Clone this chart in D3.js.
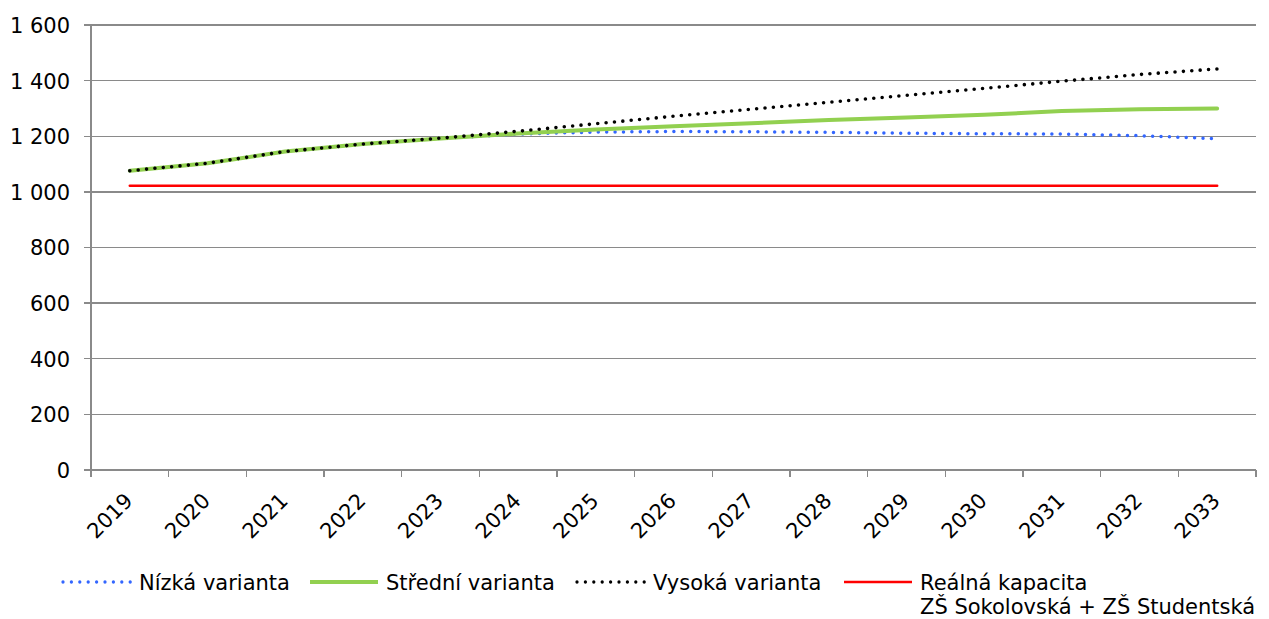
<!DOCTYPE html>
<meta charset="utf-8">
<style>
body{ margin:0; background:#fff; }
text{ font-family:"DejaVu Sans", Verdana, sans-serif; font-size:21px; fill:#000; }
.grid line, .axis line{ stroke:#8a8a8a; stroke-width:1.4px; shape-rendering:crispEdges; }
.series{ fill:none; }
</style>
<body>
<script src="https://cdn.jsdelivr.net/npm/d3@7"></script>
<script>

var years = ['2019','2020','2021','2022','2023','2024','2025','2026','2027','2028','2029','2030','2031','2032','2033'];
var nizka   = [1076,1103,1145,1172,1192,1208,1215,1217,1216,1214,1211,1209,1208,1202,1191];
var stredni = [1076,1103,1145,1172,1192,1210,1224,1236,1247,1258,1267,1277,1291,1297,1300];
var vysoka  = [1076,1103,1145,1172,1193,1218,1245,1272,1297,1322,1347,1372,1398,1422,1442];
var kapacita= [1022,1022,1022,1022,1022,1022,1022,1022,1022,1022,1022,1022,1022,1022,1022];
var yTicks = [0,200,400,600,800,1000,1200,1400,1600];

var series = [
	{name:["Nízká varianta"], values:nizka, color:"#3366ff", width:3.5, dash:"0 8.4"},
	{name:["Střední varianta"], values:stredni, color:"#92d050", width:4, dash:null},
	{name:["Vysoká varianta"], values:vysoka, color:"#000000", width:3.6, dash:"0 8.4"},
	{name:["Reálná kapacita","ZŠ Sokolovská + ZŠ Studentská"], values:kapacita, color:"#ff0000", width:2.6, dash:null}
];

var W = 1269, H = 619;
var svg = d3.select("body").append("svg").attr("width",W).attr("height",H);

var x = d3.scaleBand().domain(years).range([91,1256]).padding(0);
var y = d3.scaleLinear().domain([0,1600]).range([470,25]);

// gridlines
svg.append("g").attr("class","grid")
	.selectAll("line").data(yTicks).join("line")
	.attr("x1",84).attr("x2",1256)
	.attr("y1",d=>y(d)).attr("y2",d=>y(d));

// y axis
var ya = svg.append("g").attr("class","axis");
ya.append("line").attr("x1",91).attr("x2",91).attr("y1",y(1600)).attr("y2",y(0)+7);
ya.selectAll("text").data(yTicks).join("text")
	.attr("x",70).attr("y",d=>y(d)).attr("dy","0.38em")
	.attr("text-anchor","end")
	.text(d=>d3.format(",")(d).replace(","," "));

// x axis ticks at band edges
var edges = years.map(d=>x(d)).concat([x.range()[1]]);
var xa = svg.append("g").attr("class","axis");
xa.selectAll("line").data(edges).join("line")
	.attr("x1",d=>d).attr("x2",d=>d).attr("y1",y(0)).attr("y2",y(0)+7);
xa.selectAll("text").data(years).join("text")
	.attr("text-anchor","end")
	.attr("transform",d=>"translate("+(x(d)+x.bandwidth()/2+4)+",502) rotate(-45)")
	.text(d=>d);

// lines
var line = d3.line().x((d,i)=>x(years[i])+x.bandwidth()/2).y(d=>y(d));
var drawOrder = [3,0,1,2];
drawOrder.forEach(function(k){
	var s = series[k];
	svg.append("path").attr("class","series")
		.attr("d",line(s.values))
		.attr("stroke",s.color)
		.attr("stroke-width",s.width)
		.attr("stroke-linecap","round")
		.attr("stroke-linejoin","round")
		.attr("stroke-dasharray",s.dash);
});

// legend (entry start positions as in the original layout)
var legendX = [62,309,576,843], ly = 582;
series.forEach(function(s,k){
	var lx = legendX[k];
	var g = svg.append("g");
	g.append("line").attr("x1",lx+1).attr("x2",lx+69).attr("y1",ly).attr("y2",ly)
		.attr("stroke",s.color).attr("stroke-width",s.dash? 3.3: s.width)
		.attr("stroke-linecap",s.dash? "round":"butt")
		.attr("stroke-dasharray",s.dash);
	var t = g.append("text").attr("x",lx+77).attr("y",ly+8);
	s.name.forEach(function(n,i){
		t.append("tspan").attr("x",lx+77).attr("dy",i? 24: 0).text(n);
	});
});

</script>
</body>
